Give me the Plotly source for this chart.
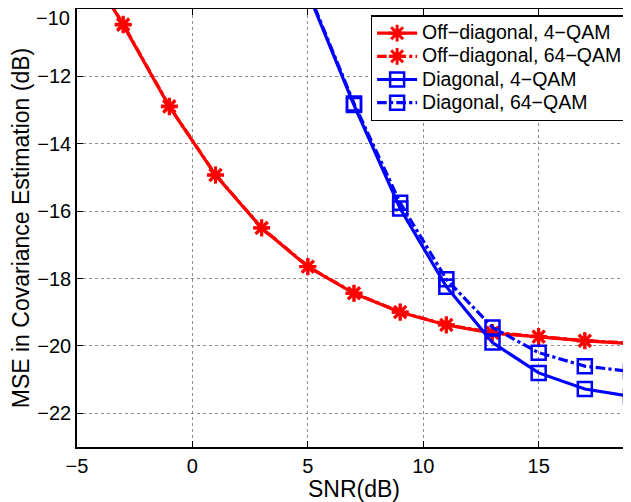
import plotly.graph_objects as go

snr_off = [-5, -3, -1, 1, 3, 5, 7, 9, 11, 13, 15, 17, 19]
off_4qam = [-8.2, -10.47, -12.9, -14.93, -16.5, -17.65, -18.44, -19.0, -19.38, -19.62, -19.73, -19.85, -19.93]
off_64qam = [-8.18, -10.45, -12.88, -14.92, -16.49, -17.64, -18.43, -18.99, -19.37, -19.6, -19.72, -19.84, -19.92]

snr_diag = [5, 7, 9, 11, 13, 15, 17, 19]
diag_4qam = [-9.5, -12.85, -15.92, -18.24, -19.9, -20.8, -21.28, -21.5]
diag_64qam = [-9.45, -12.8, -15.75, -18.02, -19.45, -20.2, -20.6, -20.76]

x_ticks = [-5, 0, 5, 10, 15]
y_ticks = [-22, -20, -18, -16, -14, -12, -10]
y_ticktext = ["\u221222", "\u221220", "\u221218", "\u221216", "\u221214", "\u221212", ""]
top_label = "\u221210"

RED = "#ff0000"
BLUE = "#0000ff"
FONT = "Liberation Sans, Arial, Helvetica, sans-serif"


def lg(name):
    return '<span style="font-size:19.5px">' + name + '</span>'


fig = go.Figure()
fig.add_trace(go.Scatter(
    x=snr_off, y=off_4qam, mode="lines+markers", name=lg("Off\u2212diagonal, 4\u2212QAM"),
    line=dict(color=RED, width=3.2),
    marker=dict(symbol="asterisk-open", size=14, line=dict(color=RED, width=3))))
fig.add_trace(go.Scatter(
    x=snr_off, y=off_64qam, mode="lines+markers", name=lg("Off\u2212diagonal, 64\u2212QAM"),
    line=dict(color=RED, width=3.2, dash="dashdot"),
    marker=dict(symbol="asterisk-open", size=14, line=dict(color=RED, width=3))))
fig.add_trace(go.Scatter(
    x=snr_diag, y=diag_4qam, mode="lines+markers", name=lg("Diagonal, 4\u2212QAM"),
    line=dict(color=BLUE, width=3.2),
    marker=dict(symbol="square-open", size=14, line=dict(color=BLUE, width=2.5))))
fig.add_trace(go.Scatter(
    x=snr_diag, y=diag_64qam, mode="lines+markers", name=lg("Diagonal, 64\u2212QAM"),
    line=dict(color=BLUE, width=3.2, dash="dashdot"),
    marker=dict(symbol="square-open", size=14, line=dict(color=BLUE, width=2.5))))

axis_common = dict(
    showline=True, linecolor="black", linewidth=1.5,
    ticks="inside", ticklen=6, tickcolor="black",
    showgrid=True, gridcolor="#8c8c8c", griddash="dot", gridwidth=1,
    zeroline=False, automargin=False,
    tickfont=dict(family=FONT, size=20, color="black"),
)

fig.update_xaxes(range=[-5, 19], tickvals=x_ticks, mirror="ticks",
                 title=dict(text="SNR(dB)", font=dict(family=FONT, size=23, color="black"), standoff=2),
                 **axis_common)
fig.update_yaxes(range=[-23, -9.998], tickvals=y_ticks, ticktext=y_ticktext, mirror=False,
                 title=dict(text="MSE in Covariance Estimation (dB)", font=dict(family=FONT, size=23, color="black"), standoff=6),
                 **axis_common)

fig.add_annotation(
    text=top_label, xref="paper", x=0, xanchor="right", xshift=-5,
    yref="y", y=y_ticks[-1], yanchor="top", yshift=4, showarrow=False,
    font=dict(family=FONT, size=20, color="black"))

fig.update_layout(
    width=623, height=494,
    margin=dict(l=69, r=0, t=1, b=55),
    plot_bgcolor="white", paper_bgcolor="white",
    font=dict(family=FONT, color="black"),
    legend=dict(
        x=0.530, y=0.986, xanchor="left", yanchor="top",
        bgcolor="white", bordercolor="black", borderwidth=1.5,
        font=dict(family=FONT, size=15.5, color="black"),
        itemwidth=40, tracegroupgap=0,
    ),
    showlegend=True,
)

fig.write_html("out.html")
